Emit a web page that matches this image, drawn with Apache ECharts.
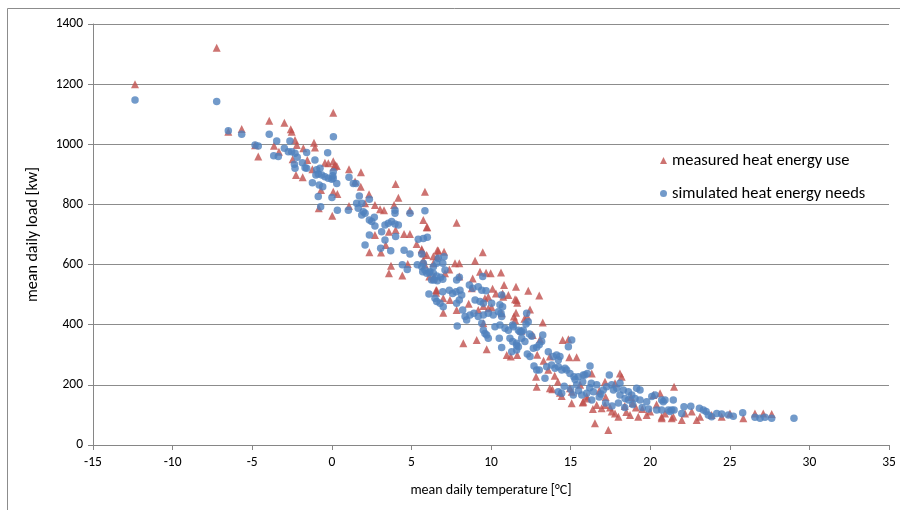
<!DOCTYPE html>
<html><head><meta charset="utf-8">
<script src="https://cdn.jsdelivr.net/npm/echarts@6/dist/echarts.min.js"></script>
<style>html,body{margin:0;padding:0;background:#fff}#c{width:900px;height:510px}</style>
</head><body><div id="c"></div>
<script>
const seriesNames = ['measured heat energy use', 'simulated heat energy needs'];
const xAxisTitle = 'mean daily temperature [°C]';
const yAxisTitle = 'mean daily load [kw]';

const measured = [
[-12.36,1200],[-7.23,1321],[-6.5,1042],[-5.66,1051],[-4.82,997],[-4.62,959],[-3.93,1078],[-2.98,1072],[-2.58,1050],[-2.52,1042],
[0.09,1105],[-3.63,995],[-3.32,975],[-2.31,1014],[-2.2,998],[-1.79,987],[-1.12,1005],[-1.06,989],[-2.46,950],[-1.54,948],
[-1.22,917],[-2.25,898],[-1.83,890],[-0.43,939],[-0.22,937],[0.09,944],[0.2,931],[1.08,917],[-0.68,848],[0.09,842],
[0.35,835],[-0.82,787],[0.03,762],[0.31,928],[0.14,925],[1.83,907],[1.46,876],[1.82,859],[2.34,834],[2.09,804],
[2.71,798],[1.08,795],[3.03,784],[3.28,781],[3.91,798],[4.01,868],[4.18,822],[4.91,781],[5.85,842],[5.75,748],
[6.0,724],[2.71,698],[3.59,709],[4.01,715],[4.54,702],[4.91,702],[3.39,665],[2.36,641],[3.09,640],[5.33,668],
[5.65,652],[5.75,638],[3.72,596],[3.59,571],[4.43,564],[4.77,602],[5.75,615],[5.85,599],[6.63,648],[6.63,628],
[6.38,604],[6.38,554],[6.55,515],[7.84,739],[5.96,724],[5.65,648],[5.96,632],[6.38,628],[6.69,646],[7.05,643],
[9.48,641],[7.74,604],[8.01,604],[9.0,613],[7.38,584],[7.11,571],[6.12,560],[6.42,560],[9.31,576],[9.69,573],
[9.98,571],[10.63,574],[8.85,554],[8.01,560],[6.59,515],[6.55,506],[7.42,482],[7.0,488],[8.79,521],[9.62,488],
[9.83,493],[10.82,532],[11.57,526],[10.31,504],[10.77,493],[11.09,499],[11.61,482],[7.0,440],[7.84,449],[9.2,449],
[9.52,462],[9.83,455],[10.04,458],[10.67,438],[11.51,416],[9.52,405],[9.1,349],[8.26,338],[9.73,318],[10.99,299],
[11.24,294],[11.65,299],[12.34,513],[13.03,497],[10.73,504],[11.51,485],[11.65,473],[11.44,427],[11.57,440],[12.28,427],
[12.45,451],[13.25,407],[12.62,366],[13.08,352],[14.5,349],[14.86,352],[15.38,292],[13.7,294],[14.92,292],[12.83,227],
[12.87,194],[13.7,189],[13.85,185],[14.33,174],[14.44,163],[14.96,189],[15.07,177],[15.76,141],[16.05,155],[16.33,238],
[17.16,210],[17.79,205],[18.1,238],[18.21,227],[15.07,139],[15.8,144],[16.01,161],[16.64,133],[16.95,122],[17.16,133],
[17.48,125],[17.58,111],[17.79,105],[18.0,94],[18.73,100],[19.25,94],[19.78,100],[19.99,111],[20.2,166],[20.62,172],
[20.72,94],[20.93,105],[16.53,72],[17.37,50],[21.5,194],[20.72,89],[21.35,89],[21.45,94],[21.98,83],[22.61,111],
[22.92,83],[23.13,94],[23.86,100],[24.49,94],[25.01,105],[25.85,89],[26.58,105],[27.1,105],[27.63,103],[22.19,105],
[18.4,130],[18.9,140],[19.5,120],[17.2,160],[16.8,180],[18.5,110],[13.3,280],[14.0,230],[13.6,250],[12.1,420],
[8.6,470],[10.1,520],[11.9,380],[12.9,300],[15.6,200],[19.1,125],[20.4,135],[14.2,210],[16.4,120],[18.8,160]
];

const simulated = [
[-12.36,1147],[-7.23,1142],[-6.5,1045],[-5.66,1033],[-4.82,998],[-4.62,994],[-3.93,1033],[-3.46,1011],[-2.63,1011],[-3.65,962],
[-3.36,959],[-2.98,987],[-2.73,975],[-2.52,975],[-2.31,970],[-2.17,957],[-1.58,973],[-1.85,939],[-1.68,922],[-1.58,920],
[-2.35,934],[-2.31,920],[-1.06,948],[-0.26,972],[0.1,1025],[-0.95,915],[-0.74,920],[-0.85,901],[-1.0,898],[-0.63,898],
[-0.43,892],[-0.22,887],[0.0,884],[0.09,909],[0.09,887],[0.31,870],[-0.79,865],[-0.57,859],[-1.22,872],[-0.85,826],
[-0.7,792],[0.01,823],[0.35,781],[1.04,781],[1.08,890],[0.06,895],[1.35,870],[1.52,870],[1.66,787],[1.73,828],
[1.56,804],[1.88,804],[1.98,776],[2.09,771],[1.88,765],[2.36,817],[2.36,748],[2.51,743],[2.67,757],[2.71,728],
[3.13,709],[3.34,732],[3.55,737],[3.76,743],[3.97,735],[4.18,732],[3.97,781],[3.97,771],[4.91,771],[5.85,779],
[2.36,698],[2.09,665],[3.34,682],[3.07,654],[3.7,646],[4.01,693],[4.54,648],[4.91,635],[5.43,684],[5.75,687],
[6.0,691],[5.65,635],[4.43,599],[4.74,584],[5.37,599],[5.65,593],[5.85,582],[5.96,571],[6.17,576],[6.38,571],
[6.59,562],[6.27,549],[6.63,546],[6.1,502],[6.59,477],[5.75,604],[5.71,576],[6.12,573],[6.42,549],[6.38,593],
[6.59,604],[6.69,621],[7.05,626],[6.97,604],[7.11,582],[6.84,558],[6.97,551],[6.48,488],[6.8,471],[7.0,460],
[6.97,510],[7.38,515],[7.59,504],[7.8,510],[8.05,515],[8.16,499],[8.01,482],[7.84,471],[7.84,549],[8.01,558],
[8.64,532],[8.85,521],[9.2,526],[9.42,515],[9.69,513],[9.48,560],[9.0,482],[9.31,477],[9.52,471],[10.04,471],
[10.56,466],[8.22,449],[8.37,427],[8.47,416],[8.68,432],[8.93,438],[9.2,427],[9.52,432],[9.83,438],[10.14,432],
[10.46,443],[10.67,427],[7.88,396],[9.42,405],[9.52,382],[9.73,366],[9.83,355],[9.62,371],[10.25,393],[10.56,399],
[10.88,388],[11.09,382],[11.36,399],[10.52,355],[10.67,324],[11.3,310],[11.61,332],[10.67,499],[10.73,460],[10.63,438],
[11.4,393],[11.72,382],[11.82,377],[11.93,377],[12.03,382],[12.2,402],[12.34,410],[12.24,438],[11.19,355],[11.36,344],
[11.61,338],[11.72,327],[11.93,355],[12.13,344],[12.41,369],[12.56,362],[11.61,316],[12.28,303],[12.45,294],[12.66,322],
[12.87,325],[13.03,333],[13.18,344],[13.25,366],[12.7,263],[12.87,249],[13.03,249],[13.39,222],[13.6,310],[13.91,294],
[14.12,299],[14.33,294],[14.23,283],[13.5,260],[13.81,266],[14.02,255],[14.23,260],[14.44,249],[14.65,255],[14.86,327],
[14.75,249],[14.96,238],[15.21,227],[15.48,227],[15.8,233],[16.05,238],[16.22,263],[14.23,177],[14.44,172],[15.17,166],
[15.7,166],[16.01,172],[15.38,200],[15.07,349],[15.28,218],[15.9,233],[15.76,210],[16.33,150],[16.43,177],[16.64,200],
[17.05,183],[17.27,194],[17.43,233],[17.58,200],[17.69,183],[17.9,189],[18.1,205],[18.31,183],[18.63,177],[18.84,166],
[19.15,189],[19.05,155],[19.36,150],[19.78,144],[20.1,161],[20.3,166],[20.72,150],[20.93,150],[20.41,116],[20.72,116],
[21.14,116],[18.1,166],[18.42,155],[18.63,150],[19.36,183],[20.82,144],[21.35,116],[21.45,150],[21.5,116],[21.24,111],
[21.98,105],[22.12,127],[22.55,129],[23.09,122],[23.34,116],[23.51,111],[23.65,100],[23.86,94],[24.18,105],[24.49,103],
[24.91,100],[25.22,96],[25.81,107],[26.58,92],[26.9,89],[27.21,92],[27.63,89],[29.03,89],
[16.8,160],[17.2,140],[17.6,130],[18.0,140],[18.4,125],[18.9,135],[19.5,125],[19.9,120],[16.2,190],[16.9,170],
[14.6,195],[15.0,185],[15.5,180],[16.3,205]
];

const xMin = -15, xMax = 35, xStep = 5;
const yMin = 0, yMax = 1400, yStep = 200;

const FONT = 'Carlito, Lato, "Open Sans", sans-serif';
const chart = echarts.init(document.getElementById('c'), null, {renderer: 'canvas'});
chart.setOption({
  animation: false,
  backgroundColor: '#fff',
  textStyle: {fontFamily: FONT},
  graphic: [{
    type: 'rect', silent: true,
    shape: {x: 7.5, y: 8.5, width: 1000, height: 1000},
    style: {fill: 'none', stroke: '#8c8c8c', lineWidth: 1}
  }],
  grid: {left: 93, right: 11, top: 24, bottom: 65, containLabel: false},
  legend: {
    orient: 'vertical', left: 655, top: 147, itemGap: 16,
    itemWidth: 7, itemHeight: 7,
    textStyle: {fontFamily: FONT, fontSize: 16.5, color: '#000'},
    data: [
      {name: seriesNames[0], icon: 'triangle'},
      {name: seriesNames[1], icon: 'circle'}
    ]
  },
  xAxis: {
    type: 'value', min: xMin, max: xMax, interval: xStep,
    name: xAxisTitle, nameLocation: 'middle', nameGap: 38,
    nameTextStyle: {fontFamily: FONT, fontSize: 14, color: '#000'},
    axisLine: {show: true, onZero: false, lineStyle: {color: '#868686'}},
    axisTick: {show: true, inside: false, length: 5, lineStyle: {color: '#868686'}},
    axisLabel: {fontFamily: FONT, fontSize: 13.5, color: '#000', margin: 11},
    splitLine: {show: false}
  },
  yAxis: {
    type: 'value', min: yMin, max: yMax, interval: yStep,
    name: yAxisTitle, nameLocation: 'middle', nameGap: 52, nameRotate: 90,
    nameTextStyle: {fontFamily: FONT, fontSize: 16, color: '#000'},
    axisLine: {show: true, onZero: false, lineStyle: {color: '#868686'}},
    axisTick: {show: true, inside: false, length: 5, lineStyle: {color: '#868686'}},
    axisLabel: {fontFamily: FONT, fontSize: 13.5, color: '#000', margin: 10,
                formatter: v => String(v)},
    splitLine: {show: true, lineStyle: {color: '#8c8c8c', width: 1}}
  },
  series: [
    {name: seriesNames[0], type: 'scatter', symbol: 'triangle', symbolSize: 8,
     itemStyle: {color: '#C0504D'}, data: measured},
    {name: seriesNames[1], type: 'scatter', symbol: 'circle', symbolSize: 7.5,
     itemStyle: {color: '#4F81BD'}, data: simulated}
  ]
});
</script>
</body></html>
